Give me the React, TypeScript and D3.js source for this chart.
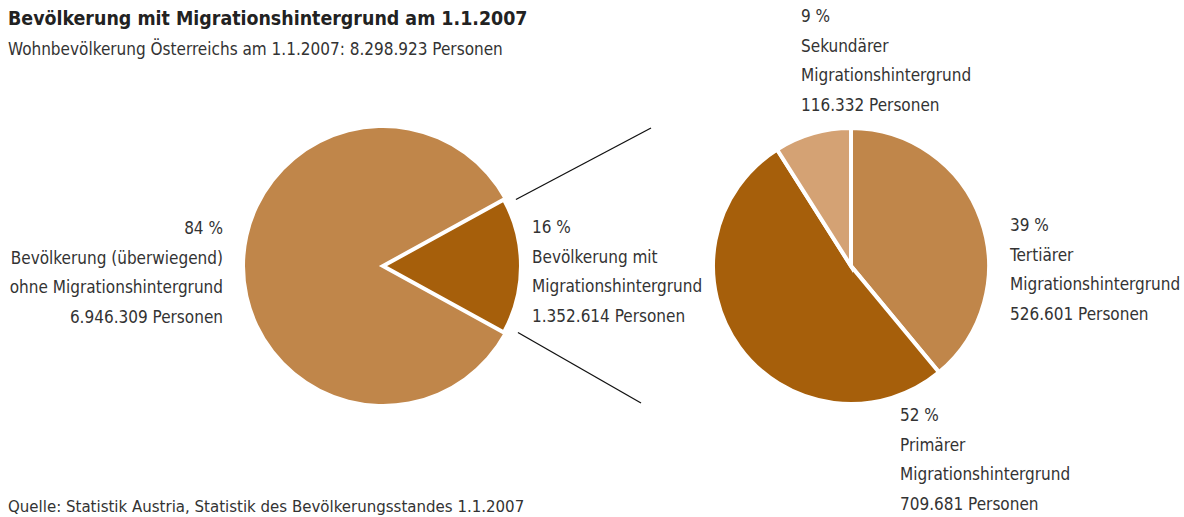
import React from "react";
import * as d3 from "d3";

const mainCategories = ["Bevölkerung (überwiegend) ohne Migrationshintergrund", "Bevölkerung mit Migrationshintergrund"];
const mainValues = [6946309, 1352614];
const mainPercents = [84, 16];
const subCategories = ["Tertiärer Migrationshintergrund", "Primärer Migrationshintergrund", "Sekundärer Migrationshintergrund"];
const subValues = [526601, 709681, 116332];
const subPercents = [39, 52, 9];
const mainColors = ["#C0864A", "#A65F0B"];
const subColors = ["#C0864A", "#A65F0B", "#D4A274"];

const FONT = "'DejaVu Sans Condensed', sans-serif";

export default function App() {
  const W = 1184, H = 517;
  const r = 138;
  const cL = { x: 383, y: 266 };
  const cR = { x: 851, y: 266 };

  const mainFrac = mainPercents[1] / d3.sum(mainPercents);
  const half = Math.PI * mainFrac;
  const pieMain = d3.pie<number>().sort(null).startAngle(Math.PI / 2 + half).endAngle(Math.PI / 2 + half + 2 * Math.PI);
  const arcsMain = pieMain(mainPercents);
  const pieSub = d3.pie<number>().sort(null);
  const arcsSub = pieSub(subPercents);
  const arc = d3.arc<d3.PieArcDatum<number>>().innerRadius(0).outerRadius(r);

  const fmtPct = (p: number) => `${p} %`;
  const fmtNum = (v: number) => d3.format(",")(v).replace(/,/g, ".");

  const topEdge = { x: cL.x + r * Math.cos(-half), y: cL.y + r * Math.sin(-half) };
  const botEdge = { x: cL.x + r * Math.cos(half), y: cL.y + r * Math.sin(half) };

  const lh = 29.7;
  const label = (x: number, y: number, lines: string[], anchor: "start" | "end") => (
    <text x={x} y={y} textAnchor={anchor} fontFamily={FONT} fontSize={17} fill="#333">
      {lines.map((l, i) => (
        <tspan key={i} x={x} dy={i === 0 ? 0 : lh}>{l}</tspan>
      ))}
    </text>
  );

  return (
    <svg width={W} height={H} style={{ position: "absolute", left: 0, top: 0, background: "#fff" }}>
      <text x={8} y={25} fontFamily={FONT} fontWeight="bold" fontSize={19.4} fill="#222">Bevölkerung mit Migrationshintergrund am 1.1.2007</text>
      <text x={8} y={55} fontFamily={FONT} fontSize={17} fill="#333">Wohnbevölkerung Österreichs am 1.1.2007: 8.298.923 Personen</text>

      <g transform={`translate(${cL.x},${cL.y})`}>
        {arcsMain.map((a, i) => (
          <path key={i} d={arc(a) || ""} fill={mainColors[i]} stroke="#fff" strokeWidth={i === 1 ? 4 : 0} strokeLinejoin="miter" />
        ))}
      </g>
      <g transform={`translate(${cR.x},${cR.y})`}>
        {arcsSub.map((a, i) => (
          <path key={i} d={arc(a) || ""} fill={subColors[i]} stroke="#fff" strokeWidth={4} />
        ))}
      </g>

      <line x1={topEdge.x + 12} y1={topEdge.y} x2={651} y2={128} stroke="#111" strokeWidth={1.3} />
      <line x1={botEdge.x + 14} y1={botEdge.y} x2={641} y2={403} stroke="#111" strokeWidth={1.3} />

      {label(223, 234, [fmtPct(mainPercents[0]), "Bevölkerung (überwiegend)", "ohne Migrationshintergrund", `${fmtNum(mainValues[0])} Personen`], "end")}
      {label(532, 233, [fmtPct(mainPercents[1]), "Bevölkerung mit", "Migrationshintergrund", `${fmtNum(mainValues[1])} Personen`], "start")}
      {label(801, 22, [fmtPct(subPercents[2]), "Sekundärer", "Migrationshintergrund", `${fmtNum(subValues[2])} Personen`], "start")}
      {label(1010, 231, [fmtPct(subPercents[0]), "Tertiärer", "Migrationshintergrund", `${fmtNum(subValues[0])} Personen`], "start")}
      {label(900, 421, [fmtPct(subPercents[1]), "Primärer", "Migrationshintergrund", `${fmtNum(subValues[1])} Personen`], "start")}

      <text x={8} y={512} fontFamily={FONT} fontSize={16.7} fill="#333">Quelle: Statistik Austria, Statistik des Bevölkerungsstandes 1.1.2007</text>
    </svg>
  );
}
